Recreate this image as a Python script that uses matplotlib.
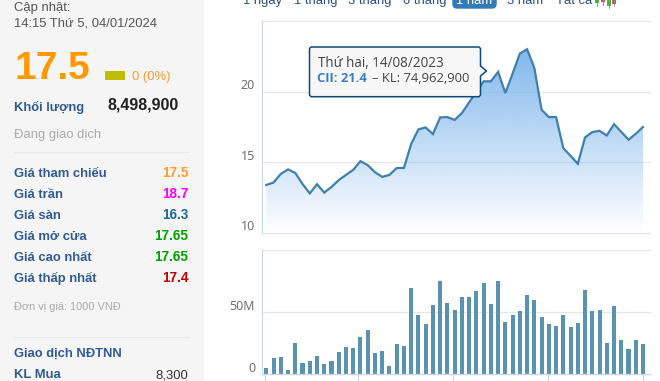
import numpy as np
import pandas as pd
import matplotlib
matplotlib.use("Agg")
import matplotlib.pyplot as plt
import matplotlib.dates as mdates
from matplotlib.patches import Polygon, Rectangle, FancyBboxPatch

plt.rcParams['font.family'] = ['Liberation Sans', 'DejaVu Sans']

weeks = pd.date_range("2023-01-02", "2024-01-01", freq="7D")
prices = [13.4, 13.57, 14.18, 14.5, 14.25, 13.47, 12.8, 13.45, 12.86, 13.26, 13.74, 14.11, 14.47,
          15.08, 14.8, 14.3, 13.97, 14.11, 14.6, 14.6, 16.3, 17.33, 17.47, 17.0, 18.18, 18.2, 18.0,
          18.49, 19.24, 20.0, 20.73, 20.73, 21.4, 19.9, 21.28, 22.7, 23.0, 21.68, 18.72, 18.2, 18.2,
          16.0, 15.46, 14.9, 16.76, 17.14, 17.23, 16.9, 17.7, 17.16, 16.6, 17.02, 17.5]
volumes = [4.9, 13, 13.8, 3.2, 25.1, 8.9, 10.5, 14.6, 8.1, 10.5, 17.8, 21.9, 21.1, 30, 35.6, 17, 18.6,
           6.5, 24.3, 22.7, 69.7, 47.8, 40.5, 55.9, 75.3, 57.5, 51.8, 62.4, 62.4, 67.2, 73.7, 56.7,
           74.96, 42.1, 47.8, 51, 64, 59.9, 46.2, 40.5, 38.9, 47.8, 38, 41.3, 68, 51, 51.8, 25.1,
           55.1, 27.5, 20.3, 27.5, 24.3]
quarter_ticks = pd.to_datetime(["2023-01-01", "2023-04-01", "2023-07-01", "2023-10-01", "2024-01-01"])
price_ticks = [10, 15, 20, 25]
price_labels = ["10", "15", "20", ""]
volume_ticks = [0, 50, 100]
volume_labels = ["0", "50M", ""]

range_buttons = [("1 ngày", 243), ("1 tháng", 294), ("3 tháng", 348), ("6 tháng", 403), ("3 năm", 507), ("Tất cả", 556)]
info_rows = [("Giá tham chiếu", "17.5", "#ff9a2e", 177), ("Giá trần", "18.7", "#ff00ff", 198),
             ("Giá sàn", "16.3", "#1f6a99", 219), ("Giá mở cửa", "17.65", "#00a000", 240),
             ("Giá cao nhất", "17.65", "#00a000", 261), ("Giá thấp nhất", "17.4", "#c00000", 282)]

W, H = 660, 381
LINE = "#3f80ad"
BAR = "#5a93b0"
GRID = "#e6e6e6"
AXIS = "#ccd6eb"
LABEL = "#2f5b92"
TICK = "#666666"


def px(size):
    return size * 72 / 100


def make_axes(left, top, right, bottom):
    return fig.add_axes([left / W, 1 - bottom / H, (right - left) / W, (bottom - top) / H])


def style_axes(ax):
    for s in ["top", "right", "bottom"]:
        ax.spines[s].set_visible(False)
    ax.spines["left"].set_color(AXIS)
    ax.spines["left"].set_linewidth(0.8)
    ax.grid(axis="y", color=GRID, linewidth=0.9, zorder=0, clip_on=False)
    ax.set_axisbelow(True)
    ax.tick_params(axis="y", length=0, pad=5, labelcolor=TICK, labelsize=px(12.5))
    ax.set_xlim(x0 - 4.15, x0 + 364 + 6.76)


fig = plt.figure(figsize=(W / 100, H / 100), dpi=100, facecolor="white")
x0 = mdates.date2num(weeks[0])
xs = mdates.date2num(weeks)

# price chart
ax = make_axes(262, 21, 650, 233)
style_axes(ax)
ax.set_ylim(10, 25)
ax.set_yticks(price_ticks, price_labels, family="Open Sans", va="center")
for t in ax.get_yticklabels():
    t.set_transform(t.get_transform() + matplotlib.transforms.ScaledTranslation(0, 6 / 100, fig.dpi_scale_trans))
ax.set_xticks([])
rgba = np.zeros((256, 1, 4))
rgba[:, 0, :3] = matplotlib.colors.to_rgb("#7cb5ec")
rgba[:, 0, 3] = np.linspace(1, 0, 256)
img = ax.imshow(rgba, extent=[xs[0], xs[-1], 10, 23.5], aspect="auto", zorder=2, origin="upper")
area = Polygon(np.column_stack([np.r_[xs[0], xs, xs[-1]], np.r_[10, prices, 10]]), transform=ax.transData,
               facecolor="none", edgecolor="none")
ax.add_patch(area)
img.set_clip_path(area)
ax.plot(xs, prices, color=LINE, linewidth=1.6, zorder=3, solid_joinstyle="miter")
ax.set_xlim(x0 - 4.15, x0 + 364 + 6.76)
ax.set_ylim(10, 25)

# volume chart
ax2 = make_axes(262, 250, 650, 374)
style_axes(ax2)
ax2.set_ylim(0, 100)
ax2.set_yticks(volume_ticks, volume_labels, family="Open Sans", va="center")
for t in ax2.get_yticklabels():
    t.set_transform(t.get_transform() + matplotlib.transforms.ScaledTranslation(0, 6 / 100, fig.dpi_scale_trans))
ax2.bar(xs, volumes, width=3.9, color=BAR, zorder=2)
ax2.spines["bottom"].set_visible(True)
ax2.spines["bottom"].set_color(AXIS)
ax2.spines["bottom"].set_linewidth(0.9)
ax2.set_xticks(mdates.date2num(quarter_ticks), [""] * len(quarter_ticks))
ax2.tick_params(axis="x", length=5.5, width=0.9, color=AXIS)

# overlay in pixel coordinates: info panel, buttons, tooltip
ov = fig.add_axes([0, 0, 1, 1], facecolor="none")
ov.set_xlim(0, W)
ov.set_ylim(H, 0)
ov.axis("off")
ov.add_patch(Rectangle((0, 0), 204, H, facecolor="#f5f5f5", edgecolor="none", zorder=0))


def label(x, y, s, size=13, color=LABEL, weight="normal", ha="left", family=None):
    kw = {"family": family} if family else {}
    ov.text(x, y, s, fontsize=px(size), color=color, weight=weight, ha=ha, va="baseline", **kw)


label(14, 11, "Cập nhật:", 13, "#555555")
label(14, 26, "14:15 Thứ 5, 04/01/2024", 13, "#555555")
label(14.5, 79, "17.5", 39, "#ff9900", "bold")
ov.add_patch(Rectangle((105, 71), 20, 9, facecolor="#bdbd0a", edgecolor="none"))
label(132, 80, "0 (0%)", 13, "#ff9a2e")
label(14, 111, "Khối lượng", 13, LABEL, "bold")
label(179, 110, "8,498,900", 16, "#222222", "bold", ha="right")
label(14, 138, "Đang giao dịch", 13, "#aaaaaa")
ov.plot([14, 189], [151.5, 151.5], color="#e8e8e8", linewidth=0.8)
for name, val, col, y in info_rows:
    label(14, y, name, 13, LABEL, "bold")
    label(188.5, y, val, 13.5, col, "bold", ha="right")
label(14, 310.5, "Đơn vị giá: 1000 VNĐ", 11, "#aaaaaa")
ov.plot([14, 189], [336.5, 336.5], color="#e8e8e8", linewidth=0.8)
label(14, 356.5, "Giao dịch NĐTNN", 13, LABEL, "bold")
label(14, 378, "KL Mua", 13, LABEL, "bold")
label(188.5, 378, "8,300", 13, "#333333", ha="right")

for s, x in range_buttons:
    label(x, 4, s, 13, "#2a4f8a")
ov.add_patch(FancyBboxPatch((453, -6), 43, 14, boxstyle="round,pad=0,rounding_size=4", facecolor="#337ab7",
                            edgecolor="#337ab7", linewidth=1))
label(474.5, 4, "1 năm", 13, "white", ha="center")
for x, h, c in [(597, 4, "#4caf50"), (603, 3, "#d9534f"), (609, 6.5, "#4caf50"), (614, 4.5, "#d9534f")]:
    ov.add_patch(Rectangle((x - 2, 0), 4, h - 1, facecolor=c, edgecolor="none"))
    ov.plot([x, x], [0, h + 1.5], color="#888888", linewidth=0.6, zorder=1)

tooltip = [(311, 47), (479, 47), (480.5, 48.5), (480.5, 66), (486.5, 71), (480.5, 76), (480.5, 95), (479, 96.7),
           (311, 96.7), (309.5, 95), (309.5, 48.5)]
ov.add_patch(Polygon(tooltip, closed=True, facecolor="#f7f7f7", edgecolor="#0d4a78", linewidth=1.1,
                     joinstyle="round", zorder=5))
ov.text(317.5, 66.7, "Thứ hai, 14/08/2023", fontsize=px(13.5), color="#444444", family="Open Sans", zorder=6)
ov.text(317, 81.7, "CII: 21.4", fontsize=px(13), color="#3a7fbf", weight="bold", family="Open Sans", zorder=6)
ov.text(371.5, 81.7, "– KL: 74,962,900", fontsize=px(13), color="#444444", family="Open Sans", zorder=6)

fig.savefig("out.png", dpi=100)
